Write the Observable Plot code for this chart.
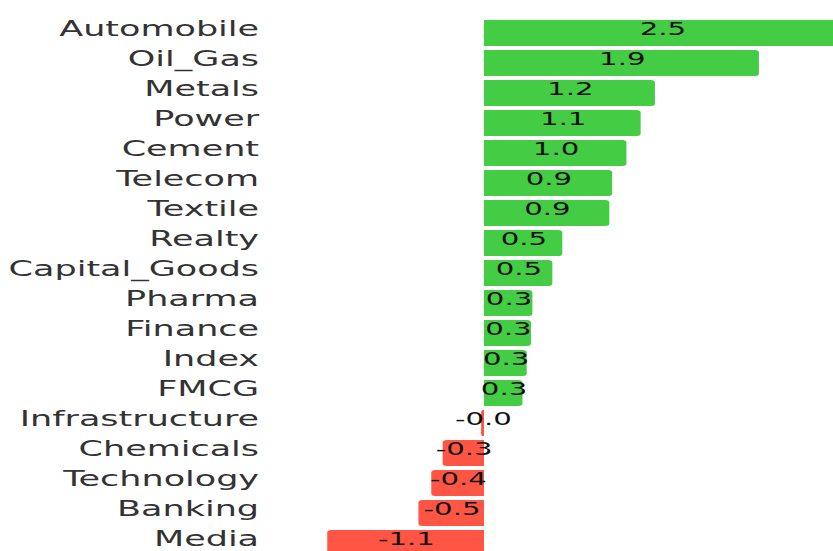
<!DOCTYPE html>
<html><head><meta charset="utf-8">
<script src="https://cdn.jsdelivr.net/npm/d3@7"></script>
<script src="https://cdn.jsdelivr.net/npm/@observablehq/plot@0.6"></script>
<style>
html,body{margin:0;padding:0;background:#fff;}
#chart{width:833px;height:551px;overflow:hidden;}
</style>
</head><body>
<div id="chart"></div>
<script>
const sectors = ["Automobile","Oil_Gas","Metals","Power","Cement","Telecom","Textile","Realty","Capital_Goods","Pharma","Finance","Index","FMCG","Infrastructure","Chemicals","Technology","Banking","Media"];
const changes = [2.5,1.93,1.2,1.1,1.0,0.9,0.88,0.55,0.48,0.34,0.33,0.3,0.27,-0.02,-0.29,-0.37,-0.46,-1.1];
const barLabels = ["2.5","1.9","1.2","1.1","1.0","0.9","0.9","0.5","0.5","0.3","0.3","0.3","0.3","-0.0","-0.3","-0.4","-0.5","-1.1"];

const data = sectors.map((s,i)=>({sector:s, value:changes[i], label:barLabels[i]}));
const W = 500;
const plot = Plot.plot({
  width: W, height: 561,
  marginLeft: 160, marginRight: 0, marginTop: 15, marginBottom: 0,
  style: {fontFamily: "DejaVu Sans", fontSize: "21px", color: "#333", background: "#fff"},
  x: {domain: [-1.526, 2.45], axis: null},
  y: {domain: sectors, padding: 0.14, label: null, tickSize: 0, tickPadding: 5},
  marks: [
    Plot.barX(data, {y:"sector", x:"value", rx: 2.5, fill: d => d.value >= 0 ? "#44cc44" : "#ff5544", clip: true}),
    Plot.barX(data, {y:"sector", x1: 0, x2: d => d.value/2, fill: d => d.value >= 0 ? "#44cc44" : "#ff5544", clip: true}),
    Plot.text(data, {y:"sector", x: d => d.value/2, text:"label", fill:"#111", fontSize: 17.5, dy: -4}),
    Plot.axisY({tickSize: 0, tickPadding: 5, fill: "#333", dy: -4})
  ]
});
plot.setAttribute("width", 833);
plot.setAttribute("preserveAspectRatio", "none");
plot.style.width = "833px";
plot.style.maxWidth = "none";
document.getElementById("chart").appendChild(plot);
</script>
</body></html>
